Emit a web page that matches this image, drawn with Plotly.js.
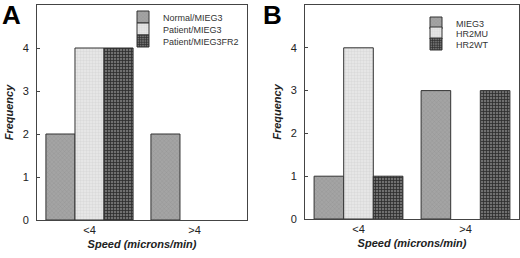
<!DOCTYPE html>
<html><head><meta charset="utf-8">
<script src="https://cdn.plot.ly/plotly-3.0.1.min.js"></script>
<style>html,body{margin:0;padding:0;background:#fff}#c{width:520px;height:258px}</style>
</head><body><div id="c"></div>
<script>
const categories = ['<4', '>4'];
const namesA = ['Normal/MIEG3', 'Patient/MIEG3', 'Patient/MIEG3FR2'];
const normalMIEG3 = [2, 2];
const patientMIEG3 = [4, 0];
const patientMIEG3FR2 = [4, 0];
const namesB = ['MIEG3', 'HR2MU', 'HR2WT'];
const mieg3 = [1, 3];
const hr2mu = [4, 0];
const hr2wt = [1, 3];
const yTicks = [0, 1, 2, 3, 4, 5];

const styles = [
  {color: '#a4a4a4', pattern: {shape: 'x', bgcolor: '#a4a4a4', fgcolor: '#8c8c8c', size: 3, solidity: 0.2}},
  {color: '#e4e4e4', pattern: {shape: '+', bgcolor: '#e6e6e6', fgcolor: '#cfcfcf', size: 3, solidity: 0.2}},
  {color: '#4a4a4a', pattern: {shape: '+', bgcolor: '#707070', fgcolor: '#2c2c2c', size: 3, solidity: 0.45}}
];
function mk(name, y, i, xa, ya, lg) {
  return {type: 'bar', name: name, x: categories, y: y, xaxis: xa, yaxis: ya, legend: lg,
    marker: {color: styles[i].color, pattern: styles[i].pattern,
      line: {color: '#333', width: y.map(v => v ? 1 : 0)}},
    hoverinfo: 'skip'};
}
const data = [
  mk(namesA[0], normalMIEG3, 0, 'x', 'y', 'legend'),
  mk(namesA[1], patientMIEG3, 1, 'x', 'y', 'legend2'),
  mk(namesA[2], patientMIEG3FR2, 2, 'x', 'y', 'legend3'),
  mk(namesB[0], mieg3, 0, 'x2', 'y2', 'legend4'),
  mk(namesB[1], hr2mu, 1, 'x2', 'y2', 'legend5'),
  mk(namesB[2], hr2wt, 2, 'x2', 'y2', 'legend6')
];
const F = 'Liberation Sans, Arial, Helvetica, sans-serif';
function xax(dom, anchor) {
  return {domain: dom, anchor: anchor, type: 'category', range: [-0.5, 1.5],
    showline: true, linecolor: '#444', linewidth: 1, mirror: true, ticks: '', showgrid: false,
    tickfont: {family: F, size: 11, color: '#222'}, ticklabelstandoff: 0,
    title: {text: '<b><i>Speed (microns/min)</i></b>', font: {family: F, size: 11, color: '#222'}, standoff: 5}};
}
function yax(dom, anchor) {
  return {domain: dom, anchor: anchor, range: [0, 5], tickvals: yTicks, ticktext: yTicks.map(String),
    showline: true, linecolor: '#444', linewidth: 1, mirror: true, ticks: 'inside', ticklen: 3, tickcolor: '#444',
    showgrid: false, zeroline: false, ticklabelstandoff: 5,
    tickfont: {family: F, size: 11, color: '#222'},
    title: {text: '<b><i>Frequency</i></b>', font: {family: F, size: 11, color: '#222'}, standoff: 6}};
}
const legFont = {family: F, size: 9, color: '#333'};
function leg(xpx, ypx) {
  return {x: xpx/520, y: 1 - ypx/258, xanchor: 'left', yanchor: 'middle', font: legFont,
    bgcolor: 'rgba(0,0,0,0)', itemwidth: 30, tracegroupgap: 0};
}
const layout = {
  width: 520, height: 258, margin: {l: 0, r: 0, t: 0, b: 0}, paper_bgcolor: '#fff', plot_bgcolor: '#fff',
  barmode: 'group', bargap: 0.17, bargroupgap: 0, showlegend: true,
  xaxis: xax([37/520, 247/520], 'y'),
  yaxis: yax([38/258, 253/258], 'x'),
  xaxis2: xax([305/520, 519/520], 'y2'),
  yaxis2: yax([39/258, 253/258], 'x2'),
  legend: leg(123, 17), legend2: leg(123, 29), legend3: leg(123, 41),
  legend4: leg(416, 23), legend5: leg(416, 33), legend6: leg(416, 44),
  annotations: [
    {text: '<b>A</b>', xref: 'paper', yref: 'paper', x: 0, y: 1, xanchor: 'left', yanchor: 'top', showarrow: false, font: {family: F, size: 26, color: '#000'}, yshift: 2},
    {text: '<b>B</b>', xref: 'paper', yref: 'paper', x: 261/520, y: 1, xanchor: 'left', yanchor: 'top', showarrow: false, font: {family: F, size: 26, color: '#000'}, yshift: 2}
  ]
};
Plotly.newPlot('c', data, layout, {staticPlot: true});
</script></body></html>
